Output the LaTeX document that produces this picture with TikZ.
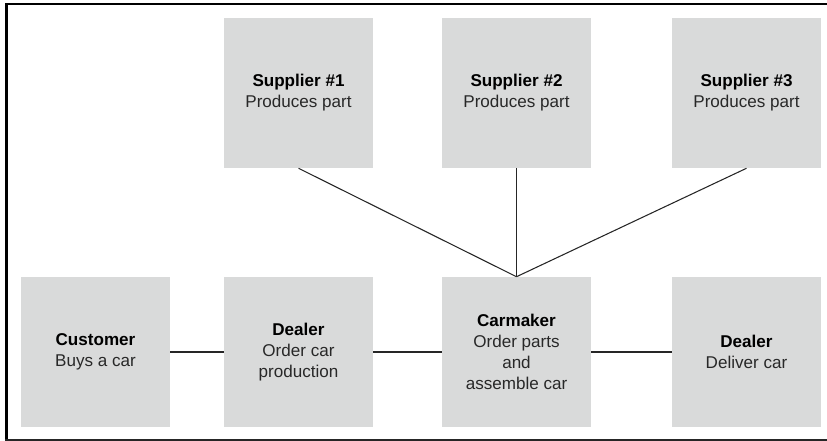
\documentclass[tikz,border=0pt]{standalone}
\usepackage{fontspec}
\setmainfont{Liberation Sans}
\definecolor{boxgray}{RGB}{217,218,218}
\definecolor{txtgray}{RGB}{40,40,40}
\begin{document}
\begin{tikzpicture}[x=0.75pt,y=-0.75pt,
  stage/.style={fill=boxgray,draw=none,minimum width=111.75pt,minimum height=112.5pt,
    inner sep=0pt,align=center,text=txtgray,font=\fontsize{12.8}{15.75}\selectfont},
  link/.style={draw=black!85,line width=0.8pt},
  frameline/.style={draw=black,line width=2pt}]
\useasboundingbox (0,0) rectangle (827,441);
\draw[frameline] (827,4) -- (6.5,4) -- (6.5,439.5);
\draw[draw=black!85,line width=1.3pt] (5,439.7) -- (827,439.7);
\node[stage] (sup1) at (298.5,93) {\textbf{\color{black}Supplier \#1}\\Produces part};
\node[stage] (sup2) at (516.5,93) {\textbf{\color{black}Supplier \#2}\\Produces part};
\node[stage] (sup3) at (746.5,93) {\textbf{\color{black}Supplier \#3}\\Produces part};
\node[stage] (cust) at (95.5,352) {\textbf{\color{black}Customer}\\Buys a car};
\node[stage] (deal1) at (298.5,352) {\textbf{\color{black}Dealer}\\Order car\\production};
\node[stage] (carm) at (516.5,352) {\textbf{\color{black}Carmaker}\\Order parts\\and\\assemble car};
\node[stage] (deal2) at (746.5,352) {\textbf{\color{black}Dealer}\\Deliver car};
\draw[link] (cust) -- (deal1);
\draw[link] (deal1) -- (carm);
\draw[link] (carm) -- (deal2);
\draw[link] (sup1.south) -- (carm.north);
\draw[link] (sup2.south) -- (carm.north);
\draw[link] (sup3.south) -- (carm.north);
\end{tikzpicture}
\end{document}
